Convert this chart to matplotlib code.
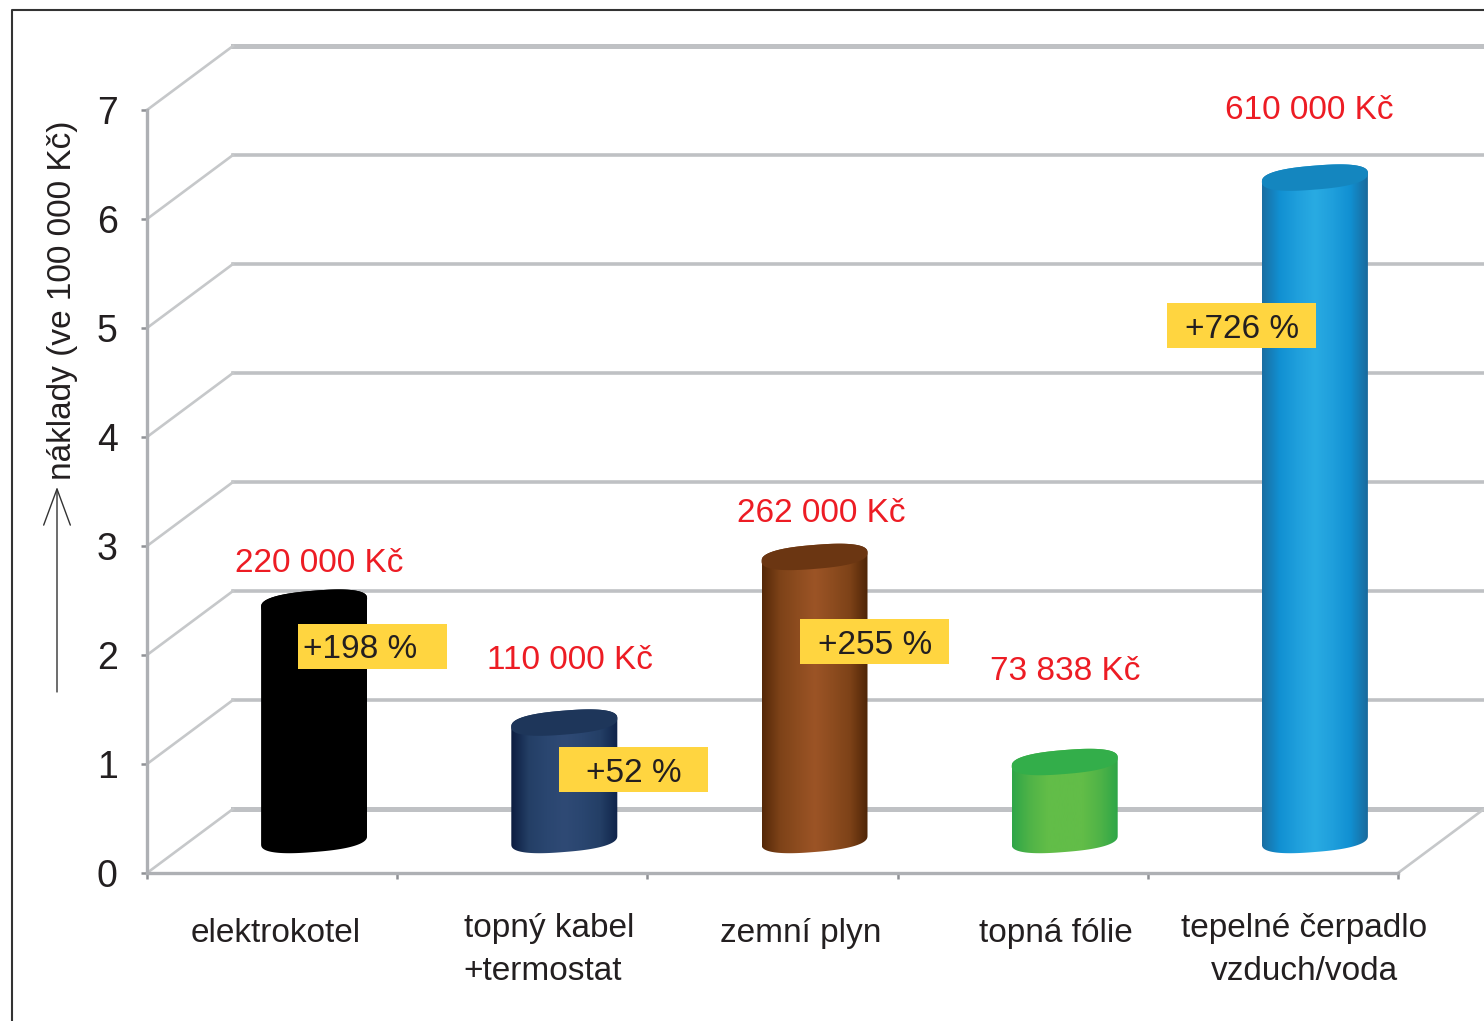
import numpy as np
import matplotlib
matplotlib.use("Agg")
import matplotlib.pyplot as plt
from matplotlib.colors import LinearSegmentedColormap
from matplotlib.lines import Line2D
from matplotlib.patches import Polygon, Rectangle
from matplotlib.transforms import Affine2D

# data
categories = ["elektrokotel", "topný kabel\n+termostat", "zemní plyn", "topná fólie", "tepelné čerpadlo\nvzduch/voda"]
values = [2.2, 1.1, 2.62, 0.73838, 6.1]
value_labels = ["220 000 Kč", "110 000 Kč", "262 000 Kč", "73 838 Kč", "610 000 Kč"]
percent_labels = ["+198 %", "+52 %", "+255 %", None, "+726 %"]
y_ticks = [0, 1, 2, 3, 4, 5, 6, 7]

# colours of the cylinders, left to right
body_colors = [
    ["#000000", "#000000", "#000000"],
    ["#0c1c40", "#243f66", "#2a4670", "#2f4a75", "#2a4670", "#243f66", "#10244a"],
    ["#552808", "#7d4218", "#8d4c1f", "#9c5426", "#8d4c1f", "#7d4218", "#4f2507"],
    ["#2ea648", "#4fb347", "#62bd48", "#62bd48", "#62bd48", "#4fb347", "#2ea648"],
    ["#1a6ea2", "#1190d2", "#1f9fdc", "#29abe2", "#1f9fdc", "#1190d2", "#1a6a9c"],
]
top_colors = ["#000000", "#1e365a", "#6b3612", "#33ae4a", "#1486bf"]

# label places, in image pixels
xlabel_pos = [(276, 933), (549, 950), (801, 933), (1056, 933), (1304, 950)]
xlabel_align = ["center", "left", "center", "center", "center"]
value_pos = [(319, 563), (570, 660), (821, 513), (1065, 671), (1309, 110)]
box_pos = [(298, 624), (559, 747), (800, 619), None, (1167, 303)]
percent_pos = [(360, 649), (634, 773), (875, 645), None, (1242, 329)]

plt.rcParams["font.family"] = ["Liberation Sans", "DejaVu Sans"]
W, H = 1484, 1021
fig = plt.figure(figsize=(W / 100, H / 100), dpi=100, facecolor="white")
ax = fig.add_axes([147 / W, 1 - 873 / H, (1398 - 147) / W, (873 - 110) / H])
ax.set_xlim(0, 5)
ax.set_ylim(0, 7)
ax.patch.set_visible(False)

px = Affine2D().scale(1, -1).translate(0, H)  # image pixels -> display
sx, sy = (1398 - 147) / 5, (873 - 110) / 7  # pixels for one data unit
depth_x, depth_y = 86 / sx, 64 / sy
GRID = "#bfc1c4"
TEXT = "#231f20"
FONT = 24

# walls
for v in y_ticks:
    ax.plot([depth_x, 6], [v + depth_y, v + depth_y], color=GRID,
            lw=3.6 if v in (0, 7) else 2.6, clip_on=False, zorder=1)
    ax.plot([0, depth_x], [v, v + depth_y], color="#c6c8ca", lw=1.9, clip_on=False, zorder=1)
ax.plot([5, 5 + depth_x], [0, depth_y], color="#c6c8ca", lw=1.9, clip_on=False, zorder=1)

# cylinders
for i, v in enumerate(values):
    cx = i + 0.5 + depth_x / 2 - 1 / sx
    a, b, slope = 53 / sx, 12 / sy, 0.08
    t = np.linspace(0, np.pi, 80)
    c, s = np.cos(t), np.sin(t)
    # a bit squarer than a true ellipse, like the reference
    ex = a * np.sign(c) * np.abs(c) ** 0.8
    ey = b * s ** 0.8 + slope * ex * sx / sy
    base = depth_y / 2 + 1 / sy
    top = v + depth_y / 2 - 1.5 / sy
    body = np.r_[np.c_[cx + ex, top + ey], np.c_[cx - ex, base - ey]]
    cmap = LinearSegmentedColormap.from_list("c%d" % i, body_colors[i])
    im = ax.imshow(np.linspace(0, 1, 256)[None, :], cmap=cmap, aspect="auto", zorder=3,
                   extent=[cx - a, cx + a, 0, 7], interpolation="bilinear")
    im.set_clip_path(Polygon(body, closed=True, transform=ax.transData))
    cap = np.r_[np.c_[cx + ex, top + ey], np.c_[cx - ex, top - ey]]
    ax.add_patch(Polygon(cap, closed=True, facecolor=top_colors[i], edgecolor="none", zorder=4))
ax.set_xlim(0, 5)
ax.set_ylim(0, 7)

# axes
for side in ("top", "right"):
    ax.spines[side].set_visible(False)
for side in ("left", "bottom"):
    ax.spines[side].set_color("#aeb0b4")
    ax.spines[side].set_linewidth(2.4)
    ax.spines[side].set_zorder(2)
ax.set_xticks(range(6))
ax.set_xticklabels([])
ax.set_yticks(y_ticks)
ax.tick_params(axis="both", length=4.5, width=1.8, color="#8f9195")
ax.tick_params(axis="y", pad=16.5, labelsize=27, labelcolor=TEXT)
ax.set_ylabel("náklady (ve 100 000 Kč)", fontsize=FONT, color=TEXT)
ax.yaxis.set_label_coords(78, 300, transform=px)

# y arrow
ax.annotate("", xy=(57, 487), xytext=(57, 692), xycoords=px, textcoords=px,
            arrowprops=dict(arrowstyle="->,head_length=1.3,head_width=0.48", mutation_scale=20,
                            color="#333333", lw=1, shrinkA=0, shrinkB=0))

# texts
for name, (x, y), al in zip(categories, xlabel_pos, xlabel_align):
    ax.text(x, y, name, transform=px, fontsize=FONT, color=TEXT, ha="center", va="center",
            linespacing=1.5, multialignment=al)
for label, (x, y) in zip(value_labels, value_pos):
    ax.text(x, y, label, transform=px, fontsize=FONT, color="#ed1c24", ha="center", va="center")
for label, box, pos in zip(percent_labels, box_pos, percent_pos):
    if label is None:
        continue
    ax.add_patch(Rectangle(box, 149, 45, transform=px, facecolor="#ffd540", edgecolor="none",
                           clip_on=False, zorder=6))
    ax.text(pos[0], pos[1], label, transform=px, fontsize=FONT, color=TEXT, ha="center",
            va="center", zorder=7)

# outer frame, only left and top are in the crop
fig.add_artist(Line2D([11.5 / W, 11.5 / W, 1], [0, 1 - 10.5 / H, 1 - 10.5 / H], color="#333333", lw=1.5))

fig.savefig("out.png", dpi=100)
